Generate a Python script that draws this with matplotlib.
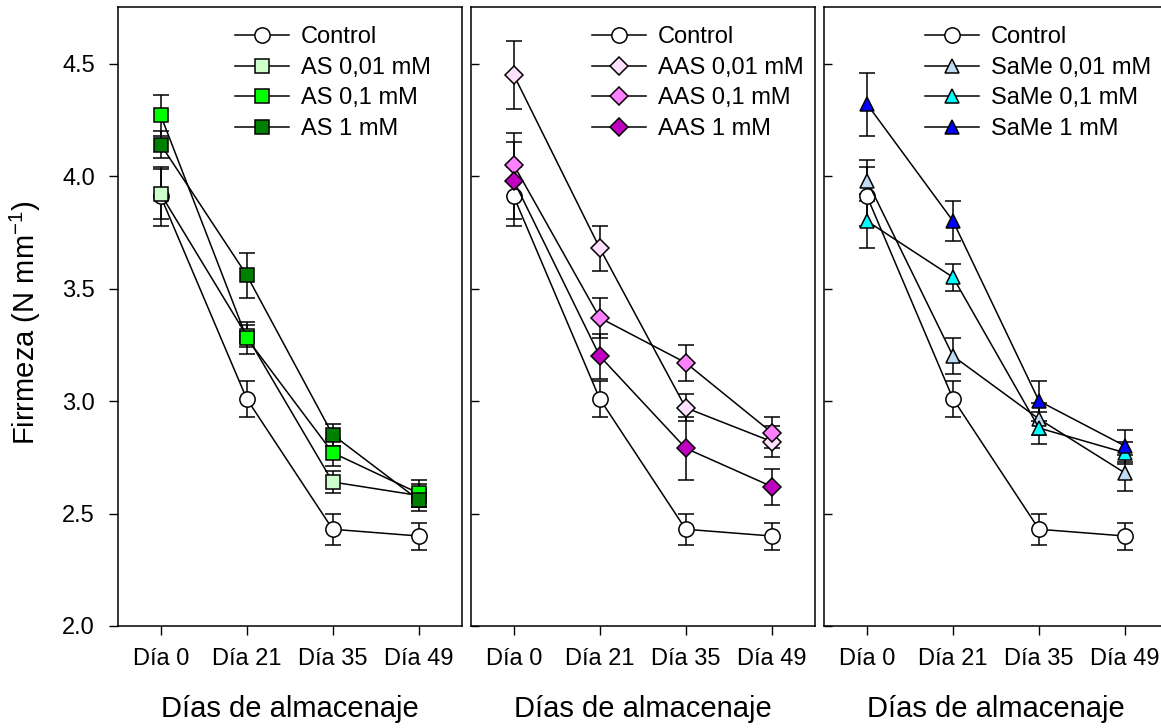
import matplotlib
matplotlib.use('Agg')
import matplotlib.pyplot as plt
import numpy as np

plt.rcParams['font.family'] = ['Liberation Sans', 'DejaVu Sans']
plt.rcParams['mathtext.fontset'] = 'custom'
plt.rcParams['mathtext.rm'] = 'Liberation Sans'

dias = ['Día 0', 'Día 21', 'Día 35', 'Día 49']

control = [3.91, 3.01, 2.43, 2.40]
control_err = [0.13, 0.08, 0.07, 0.06]

# panel 1: AS
as_001 = [3.92, 3.29, 2.64, 2.58]
as_001_err = [0.11, 0.05, 0.05, 0.05]
as_01 = [4.27, 3.28, 2.77, 2.59]
as_01_err = [0.09, 0.07, 0.06, 0.06]
as_1 = [4.14, 3.56, 2.85, 2.56]
as_1_err = [0.06, 0.10, 0.05, 0.05]

# panel 2: AAS
aas_001 = [4.45, 3.68, 2.97, 2.82]
aas_001_err = [0.15, 0.10, 0.06, 0.07]
aas_01 = [4.05, 3.37, 3.17, 2.86]
aas_01_err = [0.14, 0.09, 0.08, 0.07]
aas_1 = [3.98, 3.20, 2.79, 2.62]
aas_1_err = [0.17, 0.10, 0.14, 0.08]

# panel 3: SaMe
same_001 = [3.98, 3.20, 2.92, 2.68]
same_001_err = [0.09, 0.08, 0.07, 0.08]
same_01 = [3.80, 3.55, 2.88, 2.77]
same_01_err = [0.12, 0.06, 0.07, 0.05]
same_1 = [4.32, 3.80, 3.00, 2.80]
same_1_err = [0.14, 0.09, 0.09, 0.07]

paneles = [
    ('s', [('AS 0,01 mM', as_001, as_001_err, '#ccffcc'),
           ('AS 0,1 mM', as_01, as_01_err, '#00ff00'),
           ('AS 1 mM', as_1, as_1_err, '#008000')], 0.341),
    ('D', [('AAS 0,01 mM', aas_001, aas_001_err, '#ffe0ff'),
           ('AAS 0,1 mM', aas_01, aas_01_err, '#ff80ff'),
           ('AAS 1 mM', aas_1, aas_1_err, '#c000c0')], 0.352),
    ('^', [('SaMe 0,01 mM', same_001, same_001_err, '#c0dcf5'),
           ('SaMe 0,1 mM', same_01, same_01_err, '#00ffff'),
           ('SaMe 1 mM', same_1, same_1_err, '#0000ff')], 0.294),
]

fig = plt.figure(figsize=(11.61, 7.28), dpi=100)
x = np.arange(len(dias))
w = 344 / 1161
lefts = [117.7 / 1161, 470.7 / 1161, 824 / 1161]
bottom = 1 - 626 / 728
h = (626 - 7.3) / 728

msize = {'o': 11, 's': 10, 'D': 9.5, '^': 10.5}

for i, (mk, series, lx) in enumerate(paneles):
    ax = fig.add_axes([lefts[i], bottom, w, h])
    ax.errorbar(x, control, yerr=control_err, color='black', lw=1.1, marker='o',
                ms=msize['o'], mfc='white', mec='black', mew=1.1,
                capsize=6, elinewidth=1.1, capthick=1.1, label='Control')
    for nombre, vals, err, col in series:
        ax.errorbar(x, vals, yerr=err, color='black', lw=1.1, marker=mk,
                    ms=msize[mk], mfc=col, mec='black', mew=1.1,
                    capsize=6, elinewidth=1.1, capthick=1.1, label=nombre)
    ax.set_xlim(-0.5, 3.5)
    ax.set_ylim(2.0, 4.75)
    ax.set_xticks(x)
    ax.set_xticklabels(dias, fontsize=17)
    ax.set_yticks([2.0, 2.5, 3.0, 3.5, 4.0, 4.5])
    ax.tick_params(axis='x', direction='out', length=6.5, width=1, pad=9)
    if i == 0:
        ax.set_yticklabels(['2.0', '2.5', '3.0', '3.5', '4.0', '4.5'], fontsize=17)
        ax.tick_params(axis='y', direction='out', length=6.5, width=1, pad=10)
        ax.set_ylabel(r'Firrmeza (N mm$^{\mathregular{-1}}$)', fontsize=21)
        ax.yaxis.set_label_coords(-0.218, 0.49)
    else:
        ax.set_yticklabels([])
        ax.tick_params(axis='y', direction='in', length=6, width=1)
    ax.set_xlabel('Días de almacenaje', fontsize=21, labelpad=18)
    for s in ax.spines.values():
        s.set_linewidth(1.1)
    handles, labels = ax.get_legend_handles_labels()
    handles = [hd[0] for hd in handles]
    ax.legend(handles, labels, loc='upper left', bbox_to_anchor=(lx, 0.969),
              frameon=False, fontsize=17, handlelength=2.3, handletextpad=0.5,
              labelspacing=0.36, borderpad=0, borderaxespad=0)

fig.savefig('out.png', dpi=100)
